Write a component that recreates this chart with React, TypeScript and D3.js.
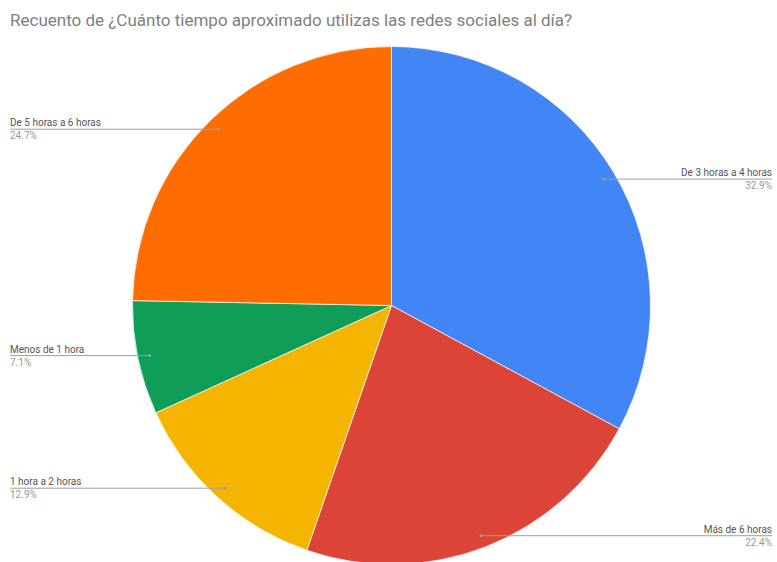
import { useEffect, useRef } from "react"
import * as d3 from "d3"

const title = "Recuento de ¿Cuánto tiempo aproximado utilizas las redes sociales al día?"
const categories = ["De 3 horas a 4 horas", "Más de 6 horas", "1 hora a 2 horas", "Menos de 1 hora", "De 5 horas a 6 horas"]
const values = [32.9, 22.4, 12.9, 7.1, 24.7]
const colors = ["#4285f4", "#db4437", "#f4b400", "#0f9d58", "#ff6d00"]

export default function App() {
  const svgRef = useRef<SVGSVGElement>(null)

  useEffect(() => {
    if (!svgRef.current) return
    const width = 777
    const height = 562
    const cx = 391.5
    const cy = 305.5
    const radius = 259

    const svg = d3.select(svgRef.current)
    svg.selectAll("*").remove()
    svg.attr("width", width).attr("height", height)

    svg.append("rect").attr("width", width).attr("height", height).attr("fill", "#fff")

    const data = categories.map((c, i) => ({ label: c, value: values[i], color: colors[i] }))
    const pie = d3.pie<{ label: string; value: number; color: string }>().value((d) => d.value).sort(null)
    const arcs = pie(data)
    const arc = d3.arc<d3.PieArcDatum<{ label: string; value: number; color: string }>>().innerRadius(0).outerRadius(radius)

    const g = svg.append("g").attr("transform", `translate(${cx},${cy})`)
    g.selectAll("path")
      .data(arcs)
      .enter()
      .append("path")
      .attr("d", arc)
      .attr("fill", (d) => d.data.color)
      .attr("stroke", "#fff")
      .attr("stroke-width", 0.7)

    // Title
    svg
      .append("text")
      .attr("x", 10)
      .attr("y", 26)
      .style("font-family", "Roboto, sans-serif")
      .style("font-size", "17px")
      .style("fill", "#808080")
      .text(title)

    // Leader lines and labels
    const dotR = 247
    arcs.forEach((d) => {
      const mid = (d.startAngle + d.endAngle) / 2
      const px = cx + dotR * Math.sin(mid)
      const py = cy - dotR * Math.cos(mid)
      const right = Math.sin(mid) > 0
      const endX = right ? 772 : 10
      const lg = svg.append("g")
      lg.append("line")
        .attr("x1", px)
        .attr("y1", py)
        .attr("x2", endX)
        .attr("y2", py)
        .attr("stroke", "#9e9e9e")
        .attr("stroke-width", 1)
      lg.append("circle").attr("cx", px).attr("cy", py).attr("r", 1.5).attr("fill", "#9e9e9e")
      lg.append("text")
        .attr("x", endX)
        .attr("y", py - 3)
        .attr("text-anchor", right ? "end" : "start")
        .style("font-family", "Roboto, sans-serif")
        .style("font-size", "10px")
        .style("fill", "#555")
        .text(d.data.label)
      lg.append("text")
        .attr("x", endX)
        .attr("y", py + 10)
        .attr("text-anchor", right ? "end" : "start")
        .style("font-family", "Roboto, sans-serif")
        .style("font-size", "10px")
        .style("fill", "#999")
        .text(`${d.data.value.toFixed(1)}%`)
    })
  }, [])

  return (
    <div style={{ position: "absolute", left: 0, top: 0 }}>
      <svg ref={svgRef} style={{ display: "block" }}></svg>
    </div>
  )
}
